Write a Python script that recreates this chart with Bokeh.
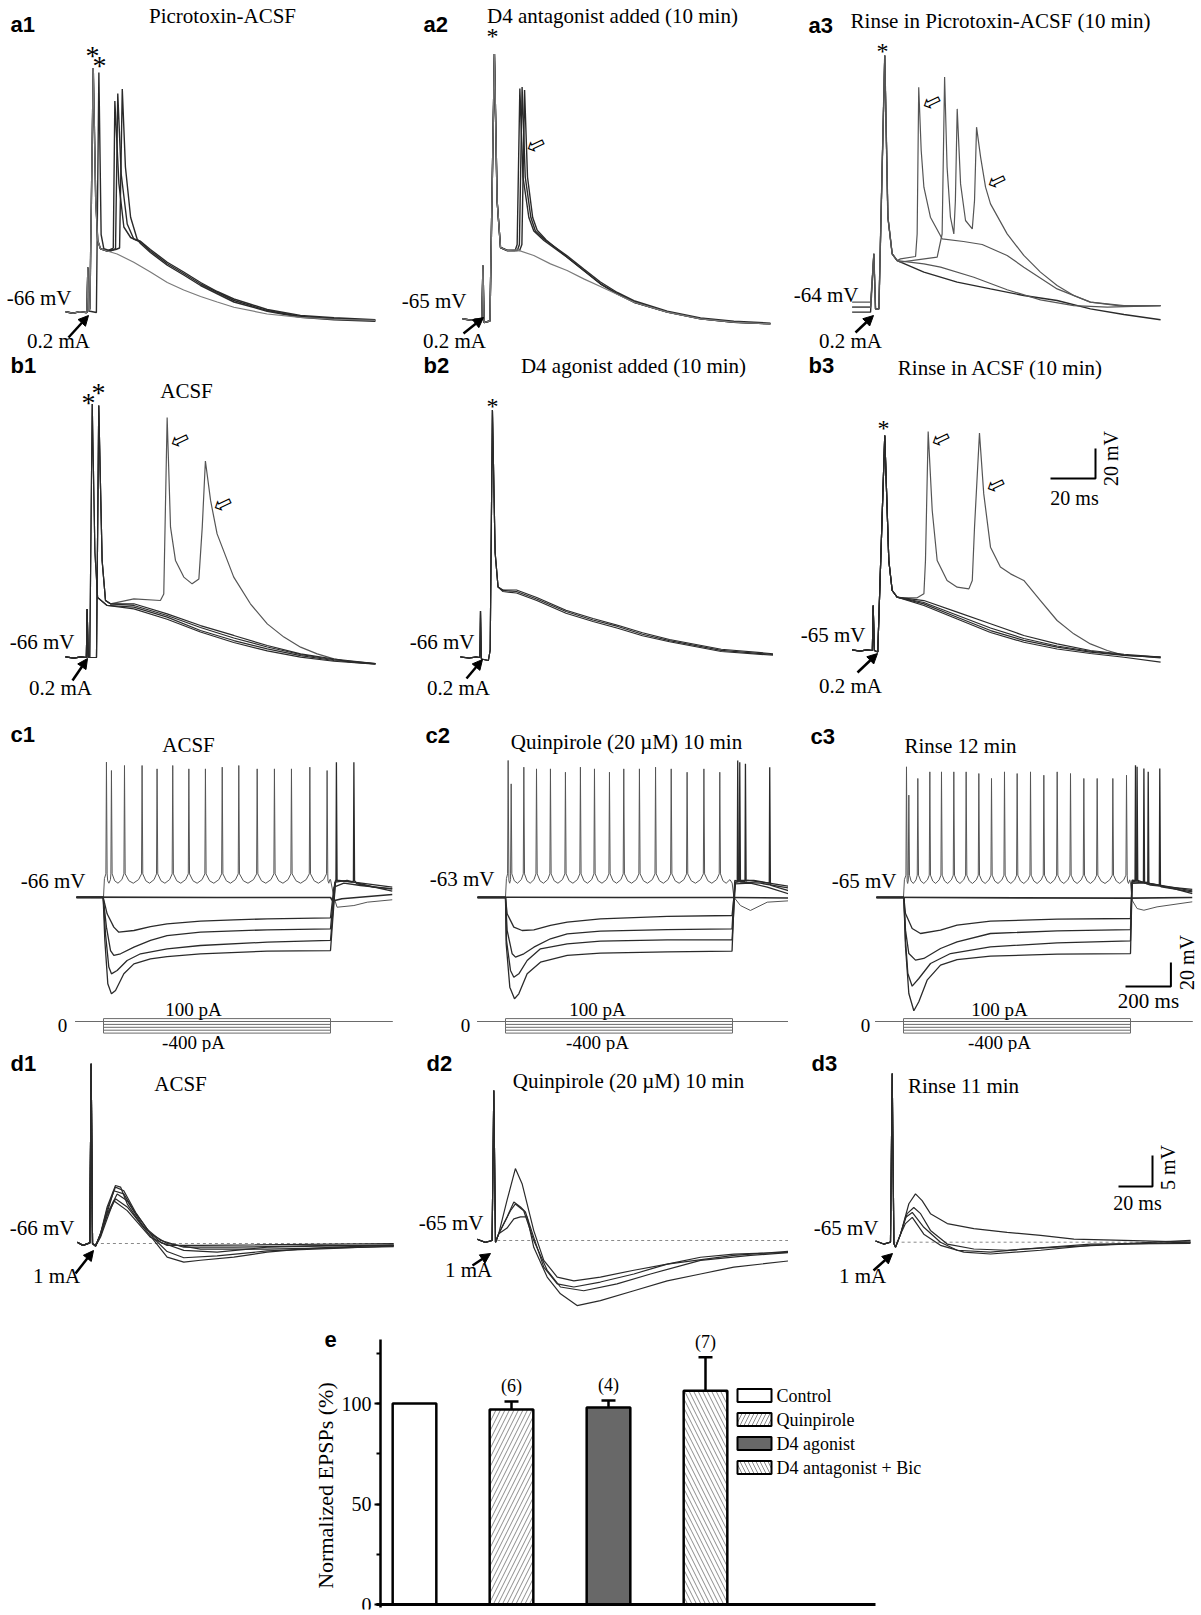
from bokeh.plotting import figure
from bokeh.layouts import column, row
from bokeh.models import (Range1d, Label, Arrow, NormalHead, ColumnDataSource,
                          Whisker, TeeHead, SingleIntervalTicker)
from bokeh.embed import file_html
from bokeh.resources import INLINE

SERIF = "Liberation Serif"
SANS = "Liberation Sans"
SYM = "DejaVu Sans"

# ======================= DATA (time in ms, voltage in mV re. rest) =======================
# ---- a1 Picrotoxin-ACSF
A1_PRE = [(-9.3, 0.5), (-6, -0.5), (-3, 0.6), (-0.3, 0)]
A1_ART = [(0.2, 0), (0.6, 30), (1.0, 1)]
A1_SPK_A = [(1.5, 2.5), (3.0, 163), (4.1, 75), (5.0, 48), (6.2, 42.5), (9.2, 41)]
A1_SPK_B = [(4.4, 0), (5.5, 160), (6.5, 52), (7.7, 42.5), (10.7, 41)]
A1_DEC1 = [(24, 47), (28.4, 41), (35.9, 32.5), (43.2, 26), (50.7, 19), (58.1, 13.5), (65.5, 8),
           (72.9, 4.7), (80.3, 1.3), (95.1, -2.7), (110, -4.2), (128.4, -5.3)]
A1_DEC2 = [(24, 47.5), (28.4, 42), (35.9, 33.5), (43.2, 27), (50.7, 20), (58.1, 14), (65.5, 9),
           (72.9, 5.5), (80.3, 2), (95.1, -2), (110, -3.5), (128.4, -4.8)]
A1_DEC3 = [(24, 46), (28.4, 40), (35.9, 31.5), (43.2, 25), (50.7, 18), (58.1, 12.5), (65.5, 7),
           (72.9, 4), (80.3, 0.8), (95.1, -3.2), (110, -4.8), (128.4, -5.8)]
A1_T1 = A1_PRE + A1_ART + A1_SPK_A + [(11.4, 42.5), (11.9, 43), (12.6, 141), (14.4, 86), (16.6, 57), (19.6, 50)] + A1_DEC1
A1_T2 = A1_PRE + A1_ART + A1_SPK_B + [(12.9, 42.5), (13.9, 146), (15.4, 92.5), (18.1, 59), (21, 49)] + A1_DEC2
A1_T3 = A1_PRE + A1_ART + A1_SPK_A + [(13, 42), (14.7, 43), (15.9, 149), (17.3, 97), (19.6, 63.5), (22.5, 49)] + A1_DEC3
A1_T4 = A1_PRE + A1_ART + A1_SPK_A + [(13.6, 39), (21, 33.5), (28.4, 27), (35.9, 20), (43.2, 15), (50.7, 10.7),
                                      (58.1, 7), (65.5, 3.5), (80.3, -1), (95.1, -3.3), (110, -4.5), (128.4, -5.3)]

# ---- a2 D4 antagonist added
A2_PRE = [(-8.9, 0.5), (-5, -0.5), (-2, 0.5), (-0.3, 0)]
A2_ART = [(0.2, 36), (0.7, -2), (3.3, -1)]
A2_SPK = [(5.3, 177), (6.5, 79), (8.0, 48), (11, 46)]
A2_L1 = [(14.5, 46), (15.4, 50), (16.6, 154), (18.0, 95), (20.6, 68), (22.8, 59), (27.3, 52.7)]
A2_L2 = [(15.5, 46), (16.4, 50), (17.6, 155), (19.0, 95), (21.5, 68), (23.5, 59), (27.8, 53)]
A2_L3 = [(16.5, 46), (17.5, 50), (18.7, 153), (20.0, 95), (22.3, 68), (24.3, 59.5), (28.3, 53)]
A2_DEC1 = [(37.6, 41.5), (45, 32.7), (52.4, 23.8), (59.9, 17.1), (67.3, 11.5), (82.1, 4.9), (96.9, 0.4), (111.7, -1.8), (128, -2.9)]
A2_DEC2 = [(37.6, 42.5), (45, 33.7), (52.4, 25), (59.9, 18), (67.3, 12.5), (82.1, 5.6), (96.9, 1), (111.7, -1.2), (128, -2.4)]
A2_LOW = [(15.4, 46.4), (22.8, 42.7), (30.2, 37.1), (37.6, 32.7), (45, 27.1), (52.4, 22), (60, 16.7), (67.3, 11.5),
          (82.1, 4.9), (96.9, 0.4), (111.7, -1.8), (128, -2.9)]
A2_T1 = A2_PRE + A2_ART + A2_SPK + A2_L1 + A2_DEC1
A2_T2 = A2_PRE + A2_ART + A2_SPK + A2_L2 + A2_DEC2
A2_T3 = A2_PRE + A2_ART + A2_SPK + A2_L3 + A2_DEC1
A2_T4 = A2_PRE + A2_ART + A2_SPK + A2_LOW

# ---- a3 Rinse in Picrotoxin-ACSF
A3_SPK = [(0.15, 35.8), (0.9, -1), (2.4, -1), (5.0, 168), (6.4, 60.2), (8.3, 35.8), (10.5, 31.3)]
A3_T1 = [(-9.5, -3.1), (-1.3, -3.1)] + A3_SPK + [(22.4, 23.6), (37.2, 16.9), (52, 12.4), (66.8, 8), (81.6, 4.7),
                                                 (96.4, -0.9), (111.3, -4.7), (127.6, -8.2)]
A3_T2 = [(-9.5, 0.2), (-1.3, 0.2)] + A3_SPK + [(22.4, 29.1), (29.8, 26.9), (44.6, 20.2), (59.4, 11.8), (74.2, 5.1),
                                               (89, 1.3), (103.9, 0.2), (127.6, 1.3)]
A3_T3 = [(-9.5, 3.6), (-1.3, 3.6)] + A3_SPK + [(12, 32.4), (18.7, 34), (19.4, 49), (20.1, 146.9), (21.2, 104.7), (22.4, 80.2),
                                               (25.3, 60.2), (30.5, 45.8), (40, 44), (48.3, 42), (59.4, 34.7), (66.8, 26.9),
                                               (81.6, 12.4), (96.4, 3.6), (111.3, 0.7), (127.6, 1.3)]
A3_T4 = [(-9.5, 0.2), (-1.3, 0.2)] + A3_SPK + [(12, 30.2), (28.3, 33.6), (30.5, 49), (31.6, 153.6), (32.7, 93.6), (34.2, 60.2),
                                               (35.7, 49.1), (36.4, 71.3), (37.2, 132.4), (38.7, 82.4), (40.9, 58), (43.9, 52.4),
                                               (44.9, 71.3), (45.8, 120.2), (47.6, 100.2), (49.8, 80.2), (52, 69.1), (59.4, 49.1),
                                               (66.8, 34.7), (74.2, 23.6), (81.6, 14.7), (89, 8), (96.4, 3.6), (111.3, 1.3), (127.6, 1.3)]

# ---- b1 ACSF
B1_PRE = [(-9.8, 0.4), (-6, -0.4), (-3, 0.4), (-0.5, 0)]
B1_ART = [(-0.15, 32.4), (0.3, 0)]
B1_SPK_A = [(1.0, 0), (2.1, 169), (3.3, 70), (4.5, 40), (8.7, 34.7)]
B1_SPK_B = [(4.0, 0), (5.0, 168), (6.5, 64.7), (8.0, 38), (10.2, 35.8)]
B1_T1 = B1_PRE + B1_ART + B1_SPK_B + [(20.6, 39.1), (32.4, 38), (33.9, 42.4), (35.4, 160), (36.9, 86.9), (39.1, 64.7),
                                      (42.8, 53.6), (46.5, 49.1), (49.5, 52.4), (51, 86.9), (52.4, 131), (54.7, 104.7),
                                      (57.6, 82.4), (65, 53.6), (72.4, 35.8), (79.9, 22.4), (87.3, 13.6), (94.7, 6.9),
                                      (102.1, 2.4), (109.5, -0.9), (116.9, -3.1), (128, -4.2)]
B1_T2 = B1_PRE + B1_ART + B1_SPK_A + [(20.6, 33.6), (35.4, 26.9), (50.2, 18), (65, 11.3), (79.9, 5.8), (94.7, 1.3), (109.5, -2), (128, -4.2)]
B1_T3 = B1_PRE + B1_ART + B1_SPK_B + [(20.6, 35.8), (35.4, 29.1), (50.2, 21.3), (65, 14.7), (79.9, 8), (94.7, 2.4), (109.5, -1), (128, -4)]
B1_T4 = B1_PRE + B1_ART + B1_SPK_A + [(20.6, 32.4), (35.4, 25.5), (50.2, 17), (65, 10), (79.9, 4.4), (94.7, 0.2), (109.5, -2.5), (128, -4.5)]
B1_T5 = B1_PRE + B1_ART + B1_SPK_B + [(20.6, 34.7), (35.4, 28), (50.2, 20), (65, 13), (79.9, 7), (94.7, 2), (109.5, -1.5), (128, -4)]

# ---- b2 D4 agonist added
B2_PRE = [(-9, 0.4), (-5, -0.4), (-2, 0.4), (-0.3, 0)]
B2_SPK = [(0, 31), (0.4, -1), (3.5, -2), (4.3, 5), (5.3, 165), (6.5, 70), (7.8, 47)]
B2_T1 = B2_PRE + B2_SPK + [(10, 44.7), (16, 44), (25, 39), (38, 30.7), (50, 25), (61, 20.7), (72, 15.5), (84, 11.3), (107, 4.7), (130, 2)]
B2_T2 = B2_PRE + B2_SPK + [(10, 44), (16, 43), (25, 38), (38, 29.5), (50, 24), (61, 19.5), (72, 14.5), (84, 10.5), (107, 4), (130, 1.5)]
B2_T3 = B2_PRE + B2_SPK + [(10, 45), (16, 45), (25, 40), (38, 31.5), (50, 26), (61, 21.5), (72, 16.5), (84, 12), (107, 5.5), (130, 2.5)]

# ---- b3 Rinse in ACSF
B3_PRE = [(-9.5, 0.4), (-6, -0.4), (-3, 0.4), (-0.5, 0)]
B3_SPK = [(-0.15, 30), (0.4, 0), (1.9, -1), (5.0, 143.3), (6.8, 60), (8.3, 40), (10.5, 35.6)]
B3_T1 = B3_PRE + B3_SPK + [(12, 35.1), (19.4, 35.1), (22.4, 37.8), (23.1, 60), (24.3, 146), (26.1, 93.3), (28.3, 60),
                           (32.7, 46.7), (37.2, 42.2), (42.4, 41.1), (43.9, 46.7), (44.9, 82.2), (47.1, 145), (49, 104.4),
                           (52, 68.9), (56.4, 55.6), (60.9, 51.1), (66.8, 46.7), (74.2, 33.3), (81.6, 20), (89, 11.1),
                           (96.4, 4.4), (103.9, 0), (111.3, -3.3), (127.6, -4.4)]
B3_T2 = B3_PRE + B3_SPK + [(22.4, 31.1), (37.2, 22.2), (52, 13.3), (66.8, 6.7), (81.6, 2.2), (96.4, -1.1), (111.3, -3.3), (127.6, -4.4)]
B3_T3 = B3_PRE + B3_SPK + [(22.4, 33.3), (37.2, 25.6), (52, 17.8), (66.8, 10), (81.6, 4.4), (96.4, 0), (111.3, -2.5), (127.6, -4.4)]
B3_T4 = B3_PRE + B3_SPK + [(22.4, 30), (37.2, 21), (52, 12), (66.8, 5.5), (81.6, 1), (96.4, -2), (111.3, -4.5), (127.6, -7.8)]
B3_T5 = B3_PRE + B3_SPK + [(22.4, 32), (37.2, 23.5), (52, 15), (66.8, 8), (81.6, 3), (96.4, -0.5), (111.3, -3), (127.6, -5)]
B3_BAR_MS, B3_BAR_MV = 20, 20

# ---- c rows: 1 s current steps, 100 pA (spiking) and hyperpolarizing steps
STEP_ON, STEP_OFF = 0, 1000
STIM_LEVELS_PA = [100, 0, -100, -200, -300, -400]
STIM_T = (-123, 1272)

C1_SPIKE_T = [13, 35, 92.5, 170, 236, 305, 376, 449, 523, 596, 677, 753, 828, 909, 985]
C1_SPIKE_PK = [112.8, 105.8, 110, 110, 107.2, 110, 107.2, 107.2, 108.6, 110, 107.2, 107.2, 107.2, 108.6, 105.8]
C1_ONSET, C1_TROUGH = 19.7, 11.9
C1_DEPOL_POST = [(1000, 15), (1015, 0.3), (1029, -8.1), (1103, -6.7), (1162, -3.9), (1272, -1.9)]
C1_H1 = [(-119, 0.3), (-1.5, 0.3), (16, -13.6), (45.5, -24.7), (67.5, -28.9), (134, -27.5), (207, -24.2), (280, -21.9),
         (427, -19.7), (574, -18.6), (721, -17.8), (1000, -16.9), (1015, 8.6), (1059, 11.9), (1132, 10), (1272, 7.2)]
C1_H2 = [(-119, 0), (-1.5, 0), (13, -24.7), (31, -44.2), (45.5, -48.3), (75, -46.9), (134, -41.4), (207, -35.8), (280, -31.7),
         (427, -28.9), (721, -26.9), (1000, -26.1), (1019, 12.8), (1024, 13), (1026, 112.8), (1029, 14), (1037, 14.2),
         (1103, 12.8), (1272, 8.6)]
C1_H3 = [(-119, 0), (-1.5, 0), (8.8, -30.3), (23.5, -58), (35, -63.6), (60, -60.8), (104, -52.5), (163, -46.9), (280, -42.8),
         (427, -40), (721, -37.2), (1000, -35.8), (1022, 14.2), (1095, 12.8), (1101, 14), (1103, 112.8), (1106, 14),
         (1117, 11.4), (1191, 8.6), (1272, 7.2)]
C1_H4 = [(-119, 0), (-1.5, 0), (5.9, -35.8), (19, -71.9), (35, -80.3), (53, -77.5), (89.6, -63.6), (134, -55.3), (207, -51.1),
         (280, -49.2), (427, -46.9), (721, -44.7), (1000, -44.2), (1022, 12.8), (1073, 14.2), (1162, 10), (1272, 5.3)]
C1_ZERO = [(-119, 0.3), (500, 0), (1000, 0), (1010, -3), (1050, -1), (1272, 2.5)]

C2_SPIKE_T = [11.7, 25, 80.8, 136.6, 198, 264, 330, 392, 458, 521, 590, 661, 730, 800, 874, 944]
C2_SPIKE_PK = [114.2, 94.7, 108.6, 107.2, 107.2, 104.4, 108.6, 107.2, 104.4, 107.2, 107.2, 108.6, 107.2, 104.4, 107.2, 104.4]
C2_ONSET, C2_TROUGH = 19.7, 11.9
C2_DEPOL_POST = [(998.5, 12), (1006, 0.3), (1035, -6.7), (1079, -10.8), (1153, -3.9), (1270, -2.5)]
C2_H1 = [(-123, 0), (0, 0), (7.3, -13.6), (36.7, -24.7), (73.4, -27.5), (125, -26.9), (198, -23.3), (272, -20.6), (418, -17.8),
         (712, -15.8), (998, -15), (1013, 12.8), (1021, 13), (1023, 114.2), (1026, 13.5), (1029, 14.2), (1094, 14.2),
         (1182, 11.4), (1270, 8.6)]
C2_H2 = [(-123, 0), (0, 0), (7.3, -27.5), (29.4, -46.9), (44, -49.7), (80.8, -46.9), (125, -41.4), (198, -34.4), (272, -30.3),
         (418, -28.1), (712, -26.7), (998, -26.1), (1010, 14.2), (1030, 13.5), (1032, 112.8), (1035, 13), (1038, 12.8),
         (1123, 11.9), (1270, 7.2)]
C2_H3 = [(-123, 0), (0, 0), (4.4, -35.8), (22, -60.8), (36.7, -66.4), (58.7, -63.6), (95.4, -52.5), (154, -42.8), (272, -38.6),
         (418, -36.4), (712, -35.3), (998, -35.3), (1013, 12.8), (1055, 13.5), (1057, 111.4), (1060, 13.5), (1065, 14.2),
         (1162, 12), (1164, 108.6), (1167, 11), (1170, 10), (1270, 4.4)]
C2_H4 = [(-123, 0), (0, 0), (2.9, -38.6), (19, -74.7), (39.6, -84.4), (58.7, -80.3), (95.4, -63.6), (154, -53.9), (272, -48.3),
         (418, -46.4), (712, -45.3), (998, -44.7), (1010, 11.4), (1079, 11.9), (1153, 8.6), (1270, 1.7)]
C2_ZERO = [(-123, 0.3), (500, 0), (998, 0), (1270, -0.5)]

C3_SPIKE_T = [13.2, 23.5, 63.1, 116, 167.4, 221.7, 276, 331.9, 387.7, 444.9, 500.7, 559.5, 618.2, 677, 735.7, 794.4,
              853.2, 922.2, 982.4]
C3_SPIKE_PK = [108.9, 85.3, 99.2, 104.7, 104.7, 104.7, 104.7, 103.3, 99.2, 104.7, 103.3, 104.7, 101.9, 104.7, 103.3, 99.2,
               99.2, 99.2, 101.9]
C3_ONSET, C3_TROUGH = 18.6, 11.7
C3_DEPOL_POST = [(1000, 12.2), (1007, -2.2), (1029, -9.2), (1059, -10.6), (1117, -7.8), (1272, -3.6)]
C3_H1 = [(-119, 0), (1.5, 0), (8.8, -13.3), (38.2, -25.8), (74.9, -30), (163, -27.2), (236, -23.1), (383, -19.7),
         (677, -18.1), (1000, -17.5), (1007, 13), (1020, 13.5), (1022, 110.3), (1025, 13.5), (1029, 14.4), (1088, 10.3),
         (1272, 6.7)]
C3_H2 = [(-119, 0), (1.5, 0), (8.8, -27.2), (23.5, -46.7), (52.9, -52.2), (89.6, -50.8), (163, -42.5), (236, -36.9),
         (383, -30), (677, -27.8), (1000, -26.7), (1007, 14.4), (1027, 14), (1029, 108.9), (1032, 13.5), (1037, 13),
         (1076, 12.5), (1078, 104.7), (1081, 12), (1085, 11.7), (1272, 5.6)]
C3_H3 = [(-119, 0), (1.5, 0), (8.8, -35.6), (19.1, -63.3), (38.2, -73.9), (67.5, -67.5), (119, -55), (207, -46.7),
         (383, -41.1), (677, -37.8), (1000, -36.1), (1007, 13), (1057, 12.5), (1059, 107.5), (1062, 12), (1066, 11.7),
         (1127, 10), (1129, 107.5), (1132, 9.5), (1135, 8.9), (1272, 4.7)]
C3_H4 = [(-119, 0), (1.5, 0), (8.8, -41.1), (23.5, -80), (45.5, -94.4), (67.5, -86.9), (104, -68.9), (163, -56.4),
         (236, -51.7), (383, -48.9), (677, -47.2), (1000, -46.7), (1007, 11.7), (1073, 12.2), (1191, 7.5), (1272, 3.3)]
C3_ZERO = [(-119, 0.2), (500, -0.3), (1000, -0.5), (1272, 0)]
C3_BAR_MS, C3_BAR_MV = 200, 20

# ---- d rows: EPSPs
D1_PRE = [(-8.4, 0.2), (-5, -0.3), (-1, 0.1), (-0.2, 29), (0.6, 0), (2.4, -0.4)]
D1_E1 = D1_PRE + [(5.3, 1.6), (9.2, 5.9), (14.1, 9.35), (17.1, 9.1), (21, 6.4), (28.8, 3.2), (36.7, 0.5), (44.5, -2.2),
                  (54.3, -3), (64.1, -2.7), (83.7, -2.2), (103.3, -1.4), (122.9, -0.9), (142.5, -0.6), (177.8, -0.3)]
D1_E2 = D1_PRE + [(5.3, 1.6), (9.2, 5), (13.1, 8.5), (19, 8), (24.9, 5.3), (34.7, 1.6), (44.5, 0), (64.1, -0.9),
                  (103.3, -0.9), (177.8, -0.5)]
D1_E3 = D1_PRE + [(5.3, 1.2), (9.2, 4.5), (14.1, 7.2), (21, 5.9), (28.8, 3.2), (40.6, 0.5), (54.3, -0.6), (83.7, -0.6),
                  (142.5, -0.3), (177.8, -0.3)]
D1_E4 = D1_PRE + [(5.3, 1.4), (9.2, 4.8), (15.1, 8), (21, 6.9), (30.8, 2.6), (40.6, 0.2), (54.3, -1.1), (73.9, -1.4),
                  (103.3, -0.6), (177.8, -0.2)]
D1_E5 = D1_PRE + [(5.3, 1), (9.2, 4), (13.1, 6.9), (21, 5.3), (34.7, 1), (44.5, -0.3), (64.1, -0.3), (177.8, 0.0)]
D1_E6 = D1_PRE + [(5.3, 1.5), (9.2, 5.5), (14.1, 9.1), (19, 8.5), (26, 5), (36.7, 0.8), (44.5, -1.3), (54.3, -2.3),
                  (73.9, -2), (103.3, -1.2), (142.5, -0.8), (177.8, -0.4)]

D2_PRE = [(-9.8, 0.2), (-5, -0.3), (-1, 0), (0, 24.2), (1, -0.3), (2.9, 1.1)]
D2_F1 = D2_PRE + [(7.8, 6.5), (12.7, 11.6), (16.7, 9.1), (19.6, 5.9), (23.5, 1.6), (29.4, -3.2), (37.3, -5.9), (47.1, -6.5),
                  (62.7, -5.9), (82.4, -4.8), (102, -3.8), (121.6, -2.7), (141.2, -2.2), (176.5, -1.9)]
D2_F2 = D2_PRE + [(7.8, 3.8), (11.8, 6.2), (15.7, 5.4), (18.6, 4.6), (23.5, 0.5), (29.4, -4.3), (37.3, -7), (47.1, -7.5),
                  (62.7, -6.7), (82.4, -5.4), (102, -3.8), (141.2, -2.4), (176.5, -1.7)]
D2_F3 = D2_PRE + [(7.8, 2), (11.8, 3.5), (15.7, 3.8), (19.6, 3.8), (23.5, -1.1), (31.4, -5.9), (39.2, -8.6), (49, -10.5),
                  (62.7, -9.7), (82.4, -8.1), (102, -6.5), (121.6, -5.4), (141.2, -4.3), (176.5, -3.2)]
D2_F4 = D2_PRE + [(9.8, 4.8), (12.7, 5.9), (17.6, 4.8), (23.5, 0), (31.4, -4.8), (39.2, -7.5), (52.9, -8.1), (72.5, -7),
                  (92.2, -5.4), (121.6, -3.2), (151, -2.4), (176.5, -1.9)]

D3_PRE = [(-9.8, 0.2), (-5, -0.3), (-1, 0), (0, 27.2), (1, -0.2), (2, -0.8), (4.9, 1.3)]
D3_G1 = D3_PRE + [(9.8, 6.2), (13.7, 7.8), (17.6, 6.7), (22.5, 4.6), (32.4, 3), (48, 2.2), (67.6, 1.6), (87.3, 1.1),
                  (106.9, 0.5), (136.3, 0.3), (175.5, 0)]
D3_G2 = D3_PRE + [(8.8, 4.6), (12.7, 5.6), (16.7, 4.6), (22.5, 1.9), (32.4, -0.3), (48, -1.1), (67.6, -1.3), (97.1, -0.8),
                  (136.3, -0.3), (175.5, 0)]
D3_G3 = D3_PRE + [(7.8, 4), (11.8, 4.8), (18.6, 2.4), (28.4, 0), (38.2, -1.3), (57.8, -1.6), (77.5, -1.1), (116.7, -0.3),
                  (175.5, -0.2)]
D3_G4 = D3_PRE + [(7.8, 3), (11.8, 4), (18.6, 1.3), (28.4, -0.5), (42.2, -1.6), (57.8, -1.9), (87.3, -1.3), (116.7, -0.5),
                  (175.5, 0.3)]
D3_BAR_MS, D3_BAR_MV = 20, 5

# ---- e: normalized EPSPs
E_CATS = ["Control", "Quinpirole", "D4 agonist", "D4 antagonist + Bic"]
E_MEAN = [100, 97, 98, 106.3]
E_SEM = [0, 4, 3.5, 16.7]
E_N = ["", "(6)", "(4)", "(7)"]
E_FILL = ["white", "white", "#686868", "white"]
E_HATCH = ["blank", "right_diagonal_line", "blank", "left_diagonal_line"]

# ======================= LAYOUT =======================
COLS = [(0, 397), (397, 788), (788, 1201)]
ROWS = {"a": (0, 352), "b": (352, 700), "c": (700, 1052), "d": (1052, 1315), "e": (1315, 1615)}
AB_SCALE = (2.25, 1.5)    # px per ms, px per mV
C_SCALE = (0.227, 1.2)
D_SCALE = (1.7, 6.2)
PA_ZERO_Y, PX_PER_PA = 1021, 0.029

DARK = "#2a2a2a"
MID = "#555555"
LIGHT = "#7a7a7a"


class Panel:
    def __init__(self, col, rk, ox, oy, scale):
        self.ox, self.oy = ox, oy
        self.sx, self.sy = scale
        X0, X1 = COLS[col]
        Y0, Y1 = ROWS[rk]
        self.Y0, self.Y1 = Y0, Y1
        self.fig = figure(width=X1 - X0, height=Y1 - Y0,
                          x_range=Range1d((X0 - ox) / self.sx, (X1 - ox) / self.sx),
                          y_range=Range1d((oy - Y1) / self.sy, (oy - Y0) / self.sy),
                          toolbar_location=None, output_backend="svg",
                          x_axis_location=None, y_axis_location=None,
                          min_border=0, outline_line_color=None, title=None)
        self.fig.grid.visible = False
        self.fig.background_fill_color = "white"
        self.fig.border_fill_color = "white"

    def xy(self, X, Y):
        return (X - self.ox) / self.sx, (self.oy - Y) / self.sy

    def text(self, X, Y, s, size=21, font=SERIF, style="normal", align="center", angle=0):
        x, y = self.xy(X, Y)
        self.fig.add_layout(Label(x=x, y=y, text=s, text_font=font, text_font_size=f"{size}px",
                                  text_font_style=style, text_align=align, text_baseline="middle",
                                  angle=angle, angle_units="deg", text_color="black"))

    def label(self, X, Y, s):
        self.text(X, Y, s, size=22, font=SANS, style="bold", align="left")

    def arrow(self, X1, Y1, X2, Y2):
        x1, y1 = self.xy(X1, Y1)
        x2, y2 = self.xy(X2, Y2)
        self.fig.add_layout(Arrow(end=NormalHead(size=10, fill_color="black", line_color="black", line_width=1),
                                  x_start=x1, y_start=y1, x_end=x2, y_end=y2,
                                  line_width=2.5, line_color="black"))

    def hollow(self, X, Y):
        self.text(X, Y, "\u21e6", size=23, font=SYM, angle=25)

    def star(self, X, Y, size=24):
        self.text(X, Y + 0.22 * size, "*", size=size)

    def trace(self, pts, color=DARK, width=1.3):
        self.fig.line([p[0] for p in pts], [p[1] for p in pts], line_color=color, line_width=width)

    def stim(self):
        f = self.fig
        f.extra_y_ranges = {"pA": Range1d((PA_ZERO_Y - self.Y1) / PX_PER_PA, (PA_ZERO_Y - self.Y0) / PX_PER_PA)}
        for L in STIM_LEVELS_PA:
            f.line([STIM_T[0], STEP_ON, STEP_ON, STEP_OFF, STEP_OFF, STIM_T[1]], [0, 0, L, L, 0, 0],
                   y_range_name="pA", line_color="#6a6a6a", line_width=1)

    def scalebar(self, X, Y, ms, mv):
        x, y = self.xy(X, Y)
        self.fig.line([x, x + ms, x + ms], [y, y, y + mv], line_color="black", line_width=2)


def spike_train(spk_t, spk_pk, onset, trough, post, t_pre):
    pts = [(t_pre, 0.3), (STEP_ON, 0.3), (STEP_ON + 4, onset * 0.8)]
    n = len(spk_t)
    for i in range(n):
        ts, pk = spk_t[i], spk_pk[i]
        pts += [(ts - 2.5, onset), (ts, pk), (ts + 3, onset)]
        nxt = spk_t[i + 1] if i + 1 < n else STEP_OFF
        gap = nxt - ts
        pts += [(ts + 0.25 * gap, trough + 2), (ts + 0.5 * gap, trough), (ts + 0.8 * gap, trough + 3)]
    return pts + post


# ---------------- row a ----------------
a1 = Panel(0, "a", 86, 312, AB_SCALE)
for tr in (A1_T1, A1_T2, A1_T3):
    a1.trace(tr, DARK, 1.4)
a1.trace(A1_T4, LIGHT, 1.2)
a1.label(10, 24, "a1")
a1.text(222, 15, "Picrotoxin-ACSF")
a1.star(92, 49, 28)
a1.star(99, 59, 28)
a1.text(71, 297, "-66 mV", align="right")
a1.arrow(68, 337, 88, 315)
a1.text(58, 340, "0.2 mA")

a2 = Panel(1, "a", 482, 319, AB_SCALE)
for tr in (A2_T1, A2_T2, A2_T3):
    a2.trace(tr, DARK, 1.4)
a2.trace(A2_T4, LIGHT, 1.2)
a2.label(423, 24, "a2")
a2.text(612, 15, "D4 antagonist added (10 min)")
a2.star(492, 30)
a2.hollow(535, 144)
a2.text(466, 300, "-65 mV", align="right")
a2.arrow(463, 333, 483, 317)
a2.text(454, 340, "0.2 mA")

a3 = Panel(2, "a", 873, 307, AB_SCALE)
a3.trace(A3_T1, DARK, 1.4)
a3.trace(A3_T2, MID, 1.2)
a3.trace(A3_T3, MID, 1.2)
a3.trace(A3_T4, MID, 1.2)
a3.label(808, 25, "a3")
a3.text(1000, 20, "Rinse in Picrotoxin-ACSF (10 min)")
a3.star(882, 45)
a3.hollow(931, 101)
a3.hollow(996, 180)
a3.text(858, 294, "-64 mV", align="right")
a3.arrow(855, 332, 873, 315)
a3.text(850, 340, "0.2 mA")

# ---------------- row b ----------------
b1 = Panel(0, "b", 87, 657, AB_SCALE)
b1.trace(B1_T1, MID, 1.2)
for tr in (B1_T2, B1_T3, B1_T4, B1_T5):
    b1.trace(tr, DARK, 1.2)
b1.label(10, 365, "b1")
b1.text(186, 390, "ACSF")
b1.star(88, 396, 28)
b1.star(98, 386, 28)
b1.hollow(179, 439)
b1.hollow(222, 503)
b1.text(74, 641, "-66 mV", align="right")
b1.arrow(72, 680, 87, 658)
b1.text(60, 687, "0.2 mA")

b2 = Panel(1, "b", 480, 657, AB_SCALE)
for tr in (B2_T1, B2_T2, B2_T3):
    b2.trace(tr, DARK, 1.2)
b2.label(423, 365, "b2")
b2.text(633, 365, "D4 agonist added (10 min)")
b2.star(492, 400)
b2.text(474, 641, "-66 mV", align="right")
b2.arrow(466, 678, 482, 659)
b2.text(458, 687, "0.2 mA")

b3 = Panel(2, "b", 873, 650, AB_SCALE)
b3.trace(B3_T1, MID, 1.2)
for tr in (B3_T2, B3_T3, B3_T4, B3_T5):
    b3.trace(tr, DARK, 1.2)
b3.label(808, 365, "b3")
b3.text(1000, 367, "Rinse in ACSF (10 min)")
b3.star(883, 422)
b3.hollow(940, 438)
b3.hollow(995, 484)
b3.scalebar(1050, 478, B3_BAR_MS, B3_BAR_MV)
b3.text(1074, 497, f"{B3_BAR_MS} ms", size=20)
b3.text(1110, 458, f"{B3_BAR_MV} mV", size=20, angle=90)
b3.text(865, 634, "-65 mV", align="right")
b3.arrow(857, 672, 877, 653)
b3.text(850, 685, "0.2 mA")

# ---------------- row c ----------------
def c_panel(col, ox, spk_t, spk_pk, onset, trough, post, hs, zero, t_pre):
    p = Panel(col, "c", ox, 897, C_SCALE)
    p.stim()
    p.trace(spike_train(spk_t, spk_pk, onset, trough, post, t_pre), MID, 1.0)
    for h in hs:
        p.trace(h, DARK, 1.3)
    p.trace(zero, DARK, 1.6)
    return p

c1 = c_panel(0, 103, C1_SPIKE_T, C1_SPIKE_PK, C1_ONSET, C1_TROUGH, C1_DEPOL_POST,
             (C1_H1, C1_H2, C1_H3, C1_H4), C1_ZERO, -119)
c1.label(10, 734, "c1")
c1.text(188, 744, "ACSF")
c1.text(85, 880, "-66 mV", align="right")
c1.text(62, 1025, "0", size=19)
c1.text(193, 1009, "100 pA", size=19)
c1.text(193, 1042, "-400 pA", size=19)

c2 = c_panel(1, 505, C2_SPIKE_T, C2_SPIKE_PK, C2_ONSET, C2_TROUGH, C2_DEPOL_POST,
             (C2_H1, C2_H2, C2_H3, C2_H4), C2_ZERO, -123)
c2.label(425, 735, "c2")
c2.text(626, 741, "Quinpirole (20 \u00b5M) 10 min")
c2.text(494, 878, "-63 mV", align="right")
c2.text(465, 1025, "0", size=19)
c2.text(597, 1009, "100 pA", size=19)
c2.text(597, 1042, "-400 pA", size=19)

c3 = c_panel(2, 903, C3_SPIKE_T, C3_SPIKE_PK, C3_ONSET, C3_TROUGH, C3_DEPOL_POST,
             (C3_H1, C3_H2, C3_H3, C3_H4), C3_ZERO, -119)
c3.label(810, 736, "c3")
c3.text(960, 745, "Rinse 12 min")
c3.text(896, 880, "-65 mV", align="right")
c3.scalebar(1125, 986, C3_BAR_MS, C3_BAR_MV)
c3.text(1148, 1000, f"{C3_BAR_MS} ms", size=21)
c3.text(1186, 962, f"{C3_BAR_MV} mV", size=20, angle=90)
c3.text(865, 1025, "0", size=19)
c3.text(999, 1009, "100 pA", size=19)
c3.text(999, 1042, "-400 pA", size=19)

# ---------------- row d ----------------
def d_panel(col, ox, oy, traces):
    p = Panel(col, "d", ox, oy, D_SCALE)
    t_end = max(pt[0] for tr in traces for pt in tr)
    p.fig.line([2, t_end], [0, 0], line_color="#8a8a8a", line_width=1, line_dash="3 3")
    for tr in traces:
        p.trace(tr, DARK, 1.2)
    return p

d1 = d_panel(0, 91, 1243, (D1_E1, D1_E2, D1_E3, D1_E4, D1_E5, D1_E6))
d1.label(10, 1063, "d1")
d1.text(180, 1083, "ACSF")
d1.text(74, 1227, "-66 mV", align="right")
d1.arrow(75, 1273, 93, 1250)
d1.text(56, 1275, "1 mA")

d2 = d_panel(1, 493.3, 1240, (D2_F1, D2_F2, D2_F3, D2_F4))
d2.label(426, 1063, "d2")
d2.text(628, 1080, "Quinpirole (20 \u00b5M) 10 min")
d2.text(483, 1222, "-65 mV", align="right")
d2.arrow(472, 1265, 490, 1253)
d2.text(468, 1269, "1 mA")

d3 = d_panel(2, 891.7, 1241.7, (D3_G1, D3_G2, D3_G3, D3_G4))
d3.label(811, 1063, "d3")
d3.text(963, 1085, "Rinse 11 min")
d3.text(878, 1227, "-65 mV", align="right")
d3.arrow(873, 1270, 892, 1253)
d3.text(862, 1275, "1 mA")
d3.scalebar(1118, 1186, D3_BAR_MS, D3_BAR_MV)
d3.text(1137, 1202, f"{D3_BAR_MS} ms", size=20)
d3.text(1167, 1167, f"{D3_BAR_MV} mV", size=20, angle=90)

# ---------------- row e : bar chart ----------------
E_PPU_X, E_PPU_Y = 97, 2.01             # pixels per category step / per percent
E_ZERO_Y, E_BAR1_X = 1604, 414          # page position of 0 % and of first bar centre
E_LEFT, E_TOP, E_BOTTOM = 100, 2, 6     # borders of the e figure
E_W, E_H = 1201, 300
fx0 = 1 - (E_BAR1_X - E_LEFT) / E_PPU_X
fx1 = fx0 + (E_W - E_LEFT) / E_PPU_X
fy1 = (E_ZERO_Y - (ROWS["e"][0] + E_TOP)) / E_PPU_Y
fy0 = -((ROWS["e"][0] + E_H - E_BOTTOM) - E_ZERO_Y) / E_PPU_Y


def ex(X):
    return 1 + (X - E_BAR1_X) / E_PPU_X


def ey(Y):
    return (E_ZERO_Y - Y) / E_PPU_Y


E_X = list(range(1, len(E_CATS) + 1))
pe = figure(width=E_W, height=E_H, x_range=Range1d(fx0, fx1), y_range=Range1d(fy0, fy1),
            toolbar_location=None, output_backend="svg", x_axis_location=None, y_axis_location="left",
            min_border_left=E_LEFT, min_border_right=0, min_border_top=E_TOP, min_border_bottom=E_BOTTOM,
            outline_line_color=None, title=None)
pe.grid.visible = False
ya = pe.yaxis[0]
ya.fixed_location = ex(380)
ya.bounds = (-1.5, 132)
ya.ticker = SingleIntervalTicker(interval=50, num_minor_ticks=2)
ya.axis_line_width = 2.5
ya.major_tick_line_width = 2
ya.minor_tick_line_width = 2
ya.major_tick_in = 0
ya.major_tick_out = 6
ya.minor_tick_in = 0
ya.minor_tick_out = 4
ya.major_label_text_font = SERIF
ya.major_label_text_font_size = "20px"
ya.major_label_text_color = "black"
ya.major_label_standoff = 3

src = ColumnDataSource(dict(x=E_X, top=E_MEAN, fill=E_FILL, hatch=E_HATCH,
                            n=E_N, ny=[m + s + 7.5 for m, s in zip(E_MEAN, E_SEM)]))
pe.vbar(x="x", top="top", bottom=0, width=0.45, source=src, fill_color="fill", line_color="black",
        line_width=2.5, hatch_pattern="hatch", hatch_color="#8c8c8c", hatch_scale=9, hatch_weight=1)
err = ColumnDataSource(dict(x=E_X[1:], lower=E_MEAN[1:], upper=[m + s for m, s in zip(E_MEAN[1:], E_SEM[1:])]))
pe.add_layout(Whisker(source=err, base="x", lower="lower", upper="upper", line_width=2.5, line_color="black",
                      upper_head=TeeHead(size=14, line_width=2.5, line_color="black"), lower_head=None))
pe.text(x="x", y="ny", text="n", source=src, text_font={"value": SERIF}, text_font_size="18px",
        text_align="center", text_baseline="middle", text_color="black")
# x axis baseline
pe.segment(x0=[ex(376)], y0=[0], x1=[ex(875)], y1=[0], line_width=3, line_color="black")

# legend
LEG_Y = [ey(1395), ey(1419), ey(1443), ey(1467)]
leg = ColumnDataSource(dict(x=[ex(754)] * 4, tx=[ex(776)] * 4, y=LEG_Y, fill=E_FILL, hatch=E_HATCH, lab=E_CATS))
pe.rect(x="x", y="y", width=34, height=13, width_units="screen", height_units="screen", source=leg,
        fill_color="fill", line_color="black", line_width=2, hatch_pattern="hatch", hatch_color="#8c8c8c",
        hatch_scale=8, hatch_weight=1)
pe.text(x="tx", y="y", text="lab", source=leg, text_font={"value": SERIF}, text_font_size="18px",
        text_align="left", text_baseline="middle", text_color="black")
pe.add_layout(Label(x=ex(324), y=ey(1339), text="e", text_font=SANS, text_font_style="bold", text_font_size="22px",
                    text_align="left", text_baseline="middle", text_color="black"))
pe.add_layout(Label(x=ex(325), y=ey(1485), text="Normalized EPSPs (%)", text_font=SERIF, text_font_size="22px",
                    text_align="center", text_baseline="middle", angle=90, angle_units="deg", text_color="black"))

layout = column(row(a1.fig, a2.fig, a3.fig), row(b1.fig, b2.fig, b3.fig),
                row(c1.fig, c2.fig, c3.fig), row(d1.fig, d2.fig, d3.fig), pe)

open("out.html", "w").write(file_html(layout, INLINE))
